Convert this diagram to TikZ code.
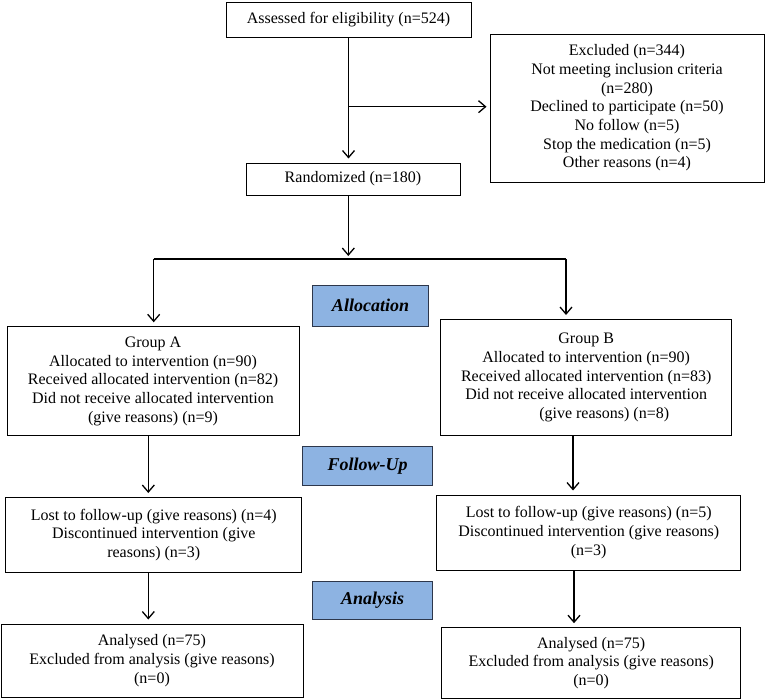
\documentclass[tikz,border=0pt]{standalone}
\usepackage{fontspec}
\setmainfont{Liberation Serif}
\usetikzlibrary{arrows.meta,calc}
\definecolor{labelblue}{RGB}{141,179,226}
\definecolor{labeledge}{RGB}{45,55,75}
\begin{document}
\begin{tikzpicture}[x=1pt,y=-1pt,
  box/.style={draw=black, line width=1pt, align=center, inner sep=0pt, font=\fontsize{16}{18.7}\selectfont},
  phase/.style={draw=labeledge, fill=labelblue, line width=1pt, inner sep=0pt, font=\fontsize{18}{20}\selectfont\bfseries\itshape},
  arr/.style={line width=1.3pt, -{Straight Barb[length=7pt,width=12pt]}, shorten >=4pt},
  conn/.style={line width=1.3pt}]
\useasboundingbox (0,0) rectangle (766,699);

% boxes
\node[box, minimum width=245pt, minimum height=35pt] (assess) at (348.5,19.5) {Assessed for eligibility (n=524)};
\node[box, minimum width=274pt, minimum height=148pt] (excl) at (627,108) {Excluded (n=344)\\Not meeting inclusion criteria\\(n=280)\\Declined to participate (n=50)\\No follow (n=5)\\Stop the medication (n=5)\\Other reasons (n=4)};
\node[box, minimum width=214pt, minimum height=32pt] (rand) at (353,179) {Randomized (n=180)};
\node[box, minimum width=292pt, minimum height=109pt] (gA) at (153,381.3) {Group A\\Allocated to intervention (n=90)\\Received allocated intervention (n=82)\\Did not receive allocated intervention\\(give reasons) (n=9)};
\node[box, minimum width=291pt, minimum height=116pt] (gB) at (586.2,377.5) {Group B\\Allocated to intervention (n=90)\\Received allocated intervention (n=83)\\Did not receive allocated intervention\\\hspace*{36pt}(give reasons) (n=8)};
\node[box, minimum width=296pt, minimum height=75pt] (lostA) at (153.8,535) {Lost to follow-up (give reasons) (n=4)\\Discontinued intervention (give\\reasons) (n=3)};
\node[box, minimum width=304pt, minimum height=75pt] (lostB) at (588.7,532.5) {Lost to follow-up (give reasons) (n=5)\\Discontinued intervention (give reasons)\\(n=3)};
\node[box, minimum width=302pt, minimum height=73pt] (anA) at (152,660.5) {Analysed (n=75)\\Excluded from analysis (give reasons)\\(n=0)};
\node[box, minimum width=299pt, minimum height=70.6pt] (anB) at (591.2,663) {Analysed (n=75)\\Excluded from analysis (give reasons)\\(n=0)};

% phase labels
\node[phase, minimum width=115.6pt, minimum height=41pt] (alloc) at (370.5,305.5) {Allocation};
\node[phase, minimum width=130pt, minimum height=39.3pt] (follow) at (367.7,466.3) {Follow-Up};
\node[phase, minimum width=120pt, minimum height=37.6pt] (analysis) at (372.7,600.5) {Analysis};

% connectors
\coordinate (br) at (348.3,106.7);
\draw[arr] (assess.south) -- (assess.south |- rand.north);
\draw[arr, shorten >=3pt] (br) -- (br -| excl.west);
\coordinate (split) at (348.3,259);
\coordinate (splitL) at (153.7,259);
\coordinate (splitR) at (566,259);
\draw[arr, shorten >=3pt] (split |- rand.south) -- (split);
\draw[conn] (splitL) -- (splitR);
\draw[arr] (splitL) -- (splitL |- gA.north);
\draw[arr] (splitR) -- (splitR |- gB.north);
\coordinate (colA) at (148.3,0);
\coordinate (colB1) at (573,0);
\coordinate (colB2) at (574,0);
\draw[arr] (colA |- gA.south) -- (colA |- lostA.north);
\draw[arr] (colB1 |- gB.south) -- (colB1 |- lostB.north);
\draw[arr] (colA |- lostA.south) -- (colA |- anA.north);
\draw[arr] (colB2 |- lostB.south) -- (colB2 |- anB.north);
\end{tikzpicture}
\end{document}
